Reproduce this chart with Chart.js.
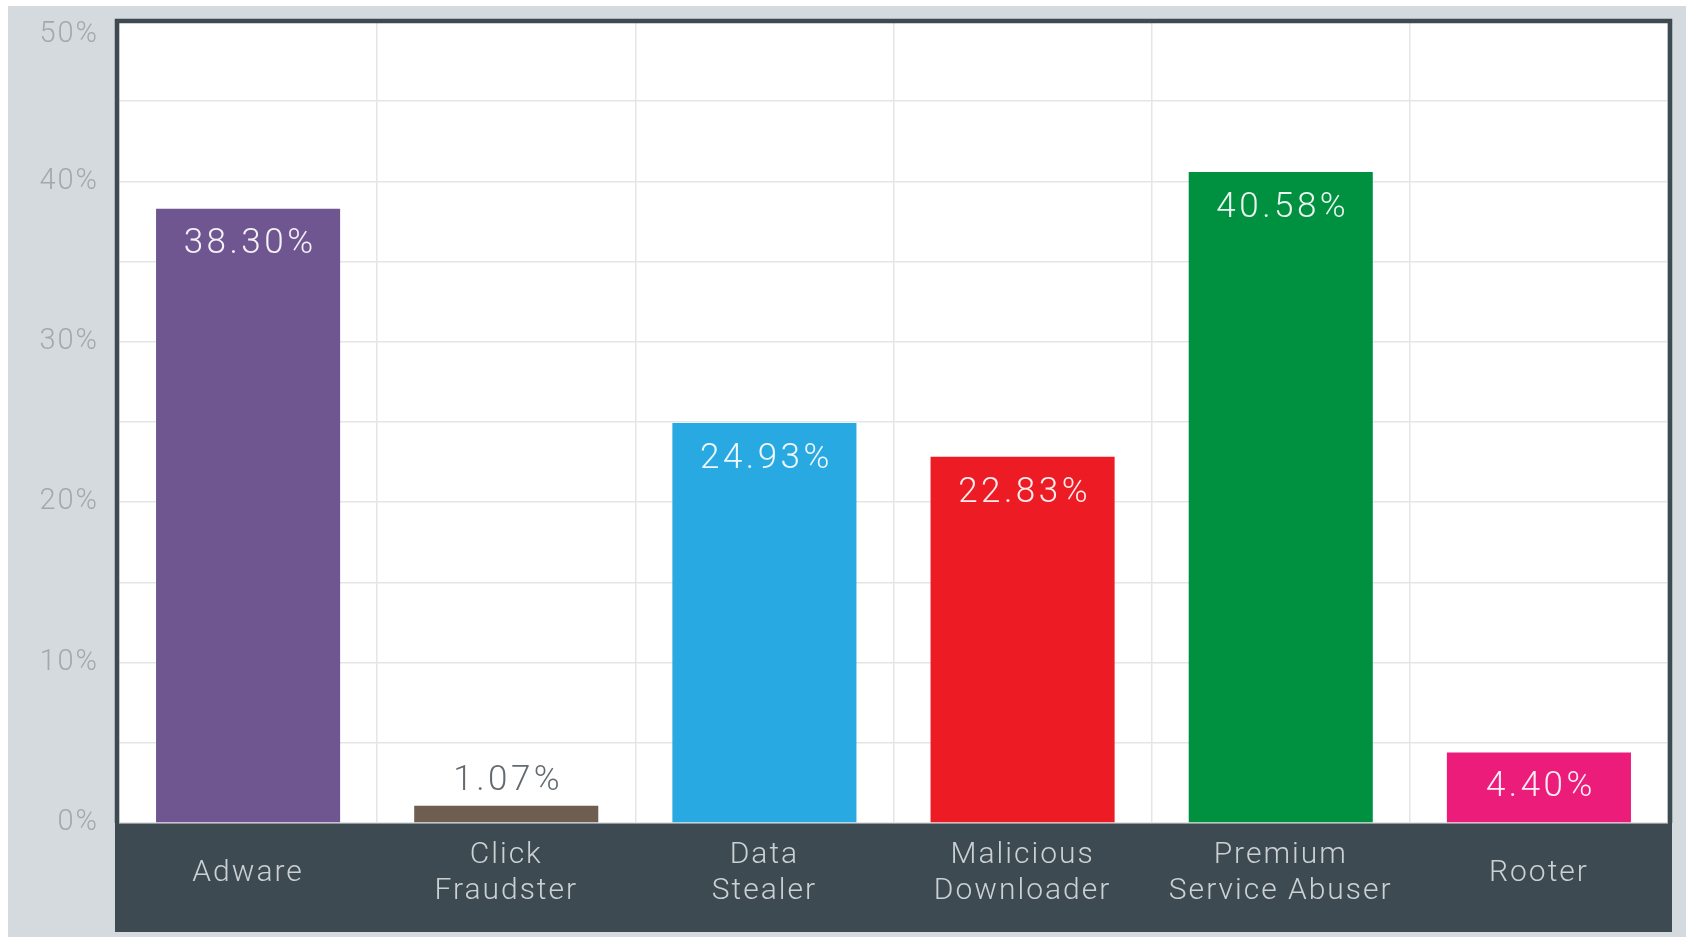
<!DOCTYPE html>
<html>
<head>
<meta charset="utf-8">
<script src="https://cdn.jsdelivr.net/npm/chart.js@4/dist/chart.umd.min.js"></script>
<style>
  html, body { margin: 0; padding: 0; background: #ffffff; }
  #wrap { width: 1686px; height: 937px; }
</style>
</head>
<body>
<div id="wrap"><canvas id="threatChart" width="1686" height="937"></canvas></div>
<script>
const categories = ["Adware", ["Click", "Fraudster"], ["Data", "Stealer"], ["Malicious", "Downloader"], ["Premium", "Service Abuser"], "Rooter"];
const shares = [38.30, 1.07, 24.93, 22.83, 40.58, 4.40];
const barColors = ["#6f5690", "#6e5e52", "#29a9e1", "#ed1c24", "#009140", "#ec1c7a"];
const yMax = 50;

const FRAME = "#3d4a51";

/* background, dark label band */
const backdrop = {
    id: "backdrop",
    beforeDraw(chart) {
        const ctx = chart.ctx;
        const a = chart.chartArea;
        ctx.save();
        ctx.fillStyle = "#d5dade";
        ctx.fillRect(8, 6, chart.width - 8, chart.height - 6);
        ctx.fillStyle = "#ffffff";
        ctx.fillRect(a.left, a.top, a.right - a.left, a.bottom - a.top);
        const x = chart.scales.x;
        ctx.fillStyle = FRAME;
        ctx.fillRect(a.left - 4, x.top, a.right - a.left + 8, x.bottom - x.top);
        ctx.restore();
        // the original font is wide, spread the tick text a bit
        ctx.letterSpacing = "2px";
    },
    afterDraw(chart) {
        const ctx = chart.ctx;
        const a = chart.chartArea;
        ctx.save();
        ctx.strokeStyle = FRAME;
        ctx.lineWidth = 4.5;
        ctx.beginPath();
        ctx.moveTo(a.left - 2, a.bottom);
        ctx.lineTo(a.left - 2, a.top);
        ctx.lineTo(a.right + 2, a.top);
        ctx.lineTo(a.right + 2, a.bottom);
        ctx.stroke();
        ctx.restore();
        ctx.letterSpacing = "0px";
    }
};

/* value labels */
const valueLabels = {
    id: "valueLabels",
    afterDatasetsDraw(chart) {
        const ctx = chart.ctx;
        const meta = chart.getDatasetMeta(0);
        ctx.save();
        ctx.font = "300 35px Roboto";
        ctx.letterSpacing = "3.5px";
        ctx.textAlign = "center";
        ctx.textBaseline = "middle";
        meta.data.forEach((bar, i) => {
            const v = shares[i];
            const txt = v.toFixed(2) + "%";
            if (v >= 3) {
                ctx.fillStyle = "rgba(255,255,255,0.92)";
                const y = Math.min(bar.y + 36, (bar.y + bar.base) / 2);
                ctx.fillText(txt, bar.x + 2, y);
            } else {
                ctx.fillStyle = "#646b70";
                ctx.fillText(txt, bar.x + 2, bar.y - 25);
            }
        });
        ctx.restore();
    }
};

new Chart(document.getElementById("threatChart"), {
    type: "bar",
    data: {
        labels: categories,
        datasets: [{
            data: shares,
            backgroundColor: barColors,
            borderWidth: 0,
            categoryPercentage: 1,
            barPercentage: 0.713
        }]
    },
    options: {
        responsive: false,
        animation: false,
        layout: { padding: { top: 21, right: 18, bottom: 5, left: 0 } },
        plugins: {
            legend: { display: false },
            tooltip: { enabled: false }
        },
        scales: {
            x: {
                afterFit: (s) => { s.height = 109; s.paddingLeft = 0; s.paddingRight = 0; },
                grid: { color: "#e3e5e7", lineWidth: 1.5, drawTicks: false, offset: true },
                border: { display: false },
                ticks: {
                    color: "#cbd0d3",
                    padding: 32,
                    crossAlign: "center",
                    maxRotation: 0,
                    autoSkip: false,
                    font: { family: "Roboto", size: 30, weight: "300", lineHeight: 1.23 }
                }
            },
            y: {
                min: 0,
                max: yMax,
                afterFit: (s) => { s.width = 119; s.paddingTop = 0; s.paddingBottom = 0; },
                grid: { color: "#e3e5e7", lineWidth: 1.5, drawTicks: false },
                border: { display: false },
                ticks: {
                    stepSize: 5,
                    padding: 20,
                    color: "#a2a9ad",
                    font: { family: "Roboto", size: 29, weight: "300", lineHeight: 0.97 },
                    // top label sits just under the frame, as in the original
                    callback: (v) => (v === yMax ? ["", v + "%"] : v % 10 === 0 ? v + "%" : "")
                }
            }
        }
    },
    plugins: [backdrop, valueLabels]
});
</script>
</body>
</html>
